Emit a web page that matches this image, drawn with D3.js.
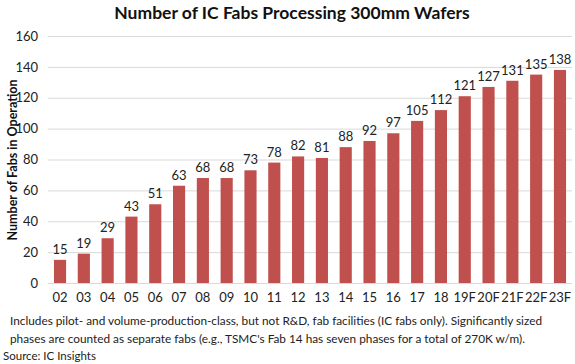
<!DOCTYPE html>
<html><head><meta charset="utf-8">
<script src="https://cdn.jsdelivr.net/npm/d3@7"></script>
<style>body{margin:0;background:#fff}svg{display:block}text{font-family:Lato,"Open Sans",sans-serif}</style>
</head><body><svg id="c" width="575" height="364"></svg>
<script>
const categories=["02","03","04","05","06","07","08","09","10","11","12","13","14","15","16","17","18","19F","20F","21F","22F","23F"];
const values=[15,19,29,43,51,63,68,68,73,78,82,81,88,92,97,105,112,121,127,131,135,138];
const yTicks=[0,20,40,60,80,100,120,140,160];
const title="Number of IC Fabs Processing 300mm Wafers";
const yLabel="Number of Fabs in Operation";
const notes=["Includes pilot- and volume-production-class, but not R&D, fab facilities (IC fabs only). Significantly sized","phases are counted as separate fabs (e.g., TSMC's Fab 14 has seven phases for a total of 270K w/m)."];
const source="Source: IC Insights";

const svg=d3.select("#c");
const x=d3.scaleBand().domain(categories).range([48,572]).paddingInner(0.49).paddingOuter(0.25);
const y=d3.scaleLinear().domain([0,160]).range([283,36]);

svg.append("text").attr("x",292).attr("y",19).attr("text-anchor","middle")
  .attr("font-size",17.5).attr("font-weight","bold").attr("fill","#111").text(title);

const ya=svg.append("g").attr("transform","translate(48,0)")
  .call(d3.axisLeft(y).tickValues(yTicks).tickSize(-(572-48)).tickPadding(10));
ya.select(".domain").remove();
ya.selectAll("line").attr("stroke","#d9d9d9");
ya.selectAll("text").attr("font-size",13).attr("fill","#222").attr("font-family","Lato,'Open Sans',sans-serif");

svg.append("text").attr("transform","translate(17,160) rotate(-90)").attr("text-anchor","middle")
  .attr("font-size",12.5).attr("font-weight","bold").attr("fill","#111").text(yLabel);

svg.append("g").selectAll("rect").data(values).join("rect")
  .attr("x",(d,i)=>x(categories[i])).attr("width",x.bandwidth())
  .attr("y",d=>y(d)).attr("height",d=>y(0)-y(d)).attr("fill","#C0504D");

svg.append("g").selectAll("text").data(values).join("text")
  .attr("x",(d,i)=>x(categories[i])+x.bandwidth()/2).attr("y",d=>y(d)-6)
  .attr("text-anchor","middle").attr("font-size",13).attr("fill","#222").text(d=>d);

const xa=svg.append("g").attr("transform","translate(0,283)").call(d3.axisBottom(x).tickSize(0).tickPadding(10));
xa.select(".domain").remove();
xa.selectAll("text").attr("font-size",13).attr("fill","#222").attr("font-family","Lato,'Open Sans',sans-serif");

svg.append("g").selectAll("text").data(notes).join("text")
  .attr("x",10).attr("y",(d,i)=>325+i*18).attr("font-size",11.8).attr("fill","#222").text(d=>d);
svg.append("text").attr("x",3).attr("y",360).attr("font-size",11.5).attr("fill","#222").text(source);
</script></body></html>
